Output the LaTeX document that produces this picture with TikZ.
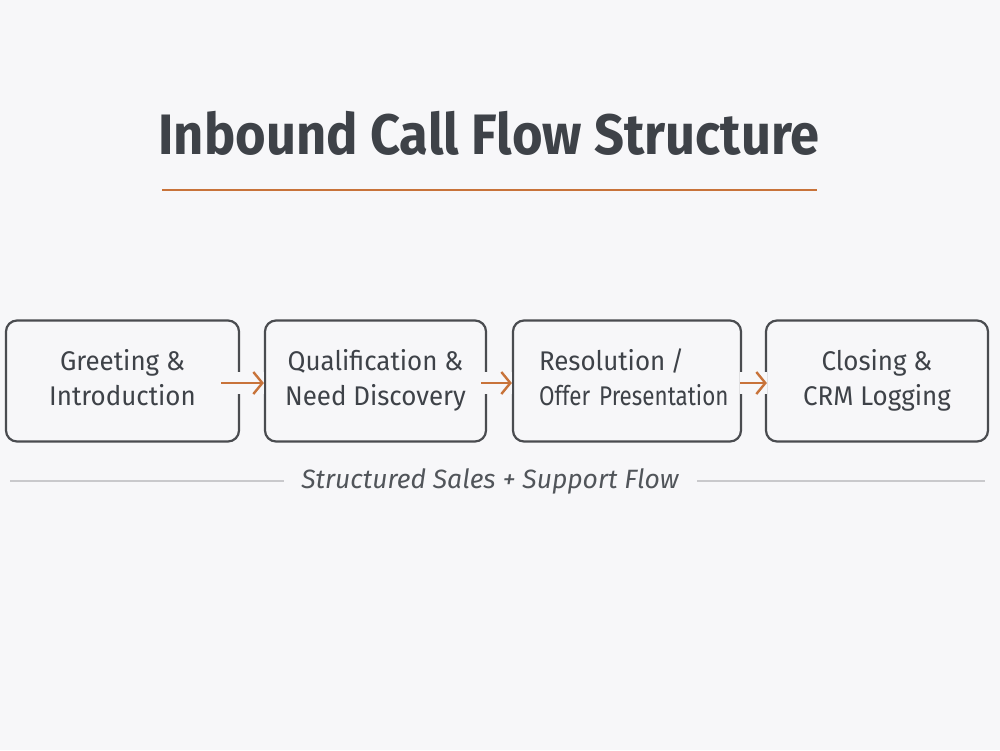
\documentclass[tikz,border=0pt]{standalone}
\usepackage{fontspec}
\setmainfont{Fira Sans}
\newfontfamily\titlefont{Fira Sans}[FakeStretch=0.92]
\newfontfamily\boxfont{Fira Sans}[FakeStretch=0.96]
\newfontfamily\narrowfont{Fira Sans}[FakeStretch=0.83]
\newfontfamily\capfont{Fira Sans}
\usetikzlibrary{arrows.meta}
\definecolor{bg}{HTML}{F7F7F9}
\definecolor{ink}{HTML}{3E4248}
\definecolor{boxline}{HTML}{4A4C50}
\definecolor{accent}{HTML}{C8733A}
\definecolor{rule}{HTML}{C9C9CC}
\tikzset{
  x=1pt, y=-1pt,
  stepbox/.style={draw=boxline, line width=2.2pt, rounded corners=11pt,
    minimum height=121pt, inner sep=0pt, text=ink,
    font=\boxfont\fontsize{27}{35}\selectfont},
  flowarrow/.style={draw=accent, line width=2.4pt,
    -{Straight Barb[length=9pt,width=22pt,line width=2.4pt]},
    preaction={draw=bg, line width=22pt, -}},
}
\begin{document}
\begin{tikzpicture}
\useasboundingbox (0,0) rectangle (1000,750);
\fill[bg] (0,0) rectangle (1000,750);
% title
\node[text=ink, font=\titlefont\bfseries\fontsize{57}{60}\selectfont, anchor=base] (title) at (489,154) {Inbound Call Flow Structure};
\coordinate (ruleL) at (162,190);
\coordinate (ruleR) at (817,190);
\draw[accent, line width=2.6pt] (ruleL) -- (ruleR);
% boxes
\node[stepbox, minimum width=233pt, align=center] (b1) at (122.5,381) {\strut Greeting \&\\\strut Introduction};
\node[stepbox, minimum width=221pt, align=center] (b2) at (375.5,381) {\strut Qualification \&\\\strut Need Discovery};
\node[stepbox, minimum width=228pt, align=left, text width=176pt] (b3) at (627,381) {\strut\mbox{Resolution\hspace{0.2em}/}\\\strut\mbox{\narrowfont Offer Presentation}};
\node[stepbox, minimum width=222pt, align=center] (b4) at (877,381) {\strut Closing \&\\\strut CRM Logging};
% arrows
\draw[flowarrow] ([xshift=-19pt,yshift=-2pt]b1.east) -- ([yshift=-2pt]b2.west);
\draw[flowarrow] ([xshift=-6pt,yshift=-2pt]b2.east) -- ([yshift=-2pt]b3.west);
\draw[flowarrow] ([xshift=-2pt,yshift=-2pt]b3.east) -- ([xshift=2pt,yshift=-2pt]b4.west);
% caption
\node[text=ink!90, font=\capfont\itshape\fontsize{26.5}{28}\selectfont, anchor=base] (cap) at (490,488) {Structured Sales + Support Flow};
\coordinate (l1a) at (10,481);
\coordinate (l1b) at (284,481);
\coordinate (l2a) at (697,481);
\coordinate (l2b) at (985,481);
\draw[rule, line width=1.3pt] (l1a) -- (l1b);
\draw[rule, line width=1.3pt] (l2a) -- (l2b);
\end{tikzpicture}
\end{document}
